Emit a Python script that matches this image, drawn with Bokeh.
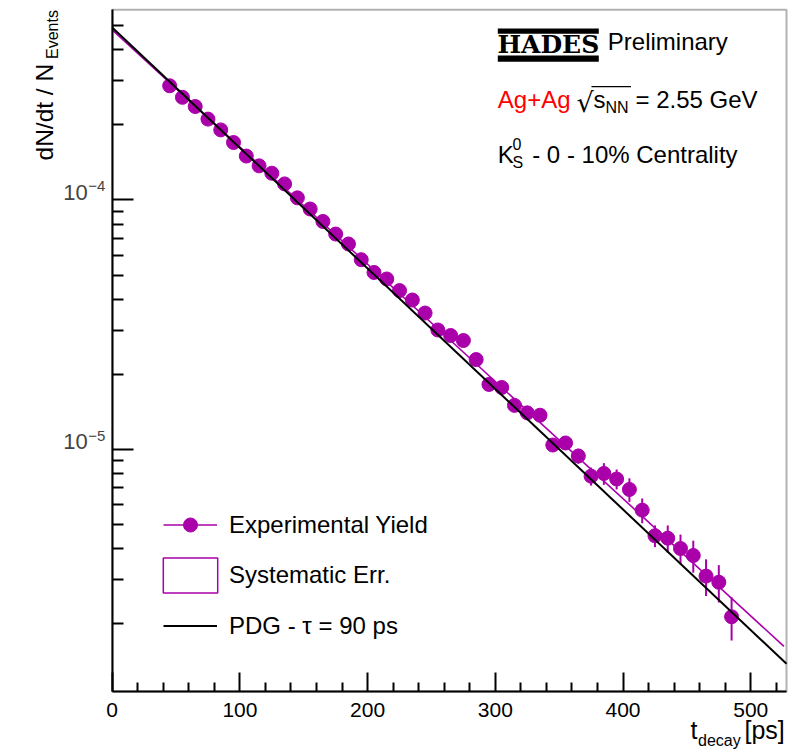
import math
from bokeh.plotting import figure
from bokeh.models import (Range1d, FixedTicker, Label, Legend, LegendItem,
                          BoxAnnotation, CustomJSTickFormatter)
from bokeh.embed import file_html
from bokeh.resources import INLINE

# ---------------- data ----------------
t_decay = [45, 55, 65, 75, 85, 95, 105, 115, 125, 135, 145, 155, 165, 175, 185,
           195, 205, 215, 225, 235, 245, 255, 265, 275, 285, 295, 305, 315, 325,
           335, 345, 355, 365, 375, 385, 395, 405, 415, 425, 435, 445, 455, 465,
           475, 485]
yield_vals = [2.87e-4, 2.58e-4, 2.37e-4, 2.11e-4, 1.91e-4, 1.70e-4, 1.50e-4,
              1.37e-4, 1.28e-4, 1.16e-4, 1.02e-4, 9.2e-5, 8.2e-5, 7.3e-5,
              6.66e-5, 5.76e-5, 5.12e-5, 4.82e-5, 4.33e-5, 3.97e-5, 3.52e-5,
              3.01e-5, 2.86e-5, 2.73e-5, 2.29e-5, 1.82e-5, 1.77e-5, 1.50e-5,
              1.40e-5, 1.37e-5, 1.04e-5, 1.06e-5, 9.4e-6, 7.8e-6, 8.0e-6,
              7.6e-6, 6.9e-6, 5.7e-6, 4.5e-6, 4.4e-6, 4.0e-6, 3.75e-6, 3.1e-6,
              2.93e-6, 2.13e-6]
stat_err = [5.7e-6, 5.2e-6, 4.7e-6, 4.2e-6, 3.8e-6, 3.4e-6, 3.0e-6, 2.7e-6,
            2.6e-6, 2.3e-6, 2.0e-6, 1.8e-6, 1.6e-6, 1.5e-6, 1.3e-6, 1.2e-6,
            1.0e-6, 1.0e-6, 0.9e-6, 0.8e-6, 0.9e-6, 0.9e-6, 0.9e-6, 0.8e-6,
            0.8e-6, 0.7e-6, 0.7e-6, 0.7e-6, 0.7e-6, 0.7e-6, 0.6e-6, 0.65e-6,
            0.65e-6, 0.65e-6, 0.8e-6, 0.7e-6, 0.75e-6, 0.65e-6, 0.45e-6,
            0.55e-6, 0.55e-6, 0.55e-6, 0.52e-6, 0.5e-6, 0.42e-6]
# systematic uncertainties (boxes hidden behind the markers)
sys_err = [5.0e-6, 4.5e-6, 4.1e-6, 3.7e-6, 3.3e-6, 3.0e-6, 2.6e-6, 2.4e-6,
           2.2e-6, 2.0e-6, 1.8e-6, 1.6e-6, 1.4e-6, 1.3e-6, 1.2e-6, 1.0e-6,
           0.9e-6, 0.8e-6, 0.75e-6, 0.7e-6, 0.6e-6, 0.52e-6, 0.5e-6, 0.48e-6,
           0.4e-6, 0.32e-6, 0.31e-6, 0.26e-6, 0.24e-6, 0.24e-6, 0.18e-6,
           0.18e-6, 0.16e-6, 0.14e-6, 0.14e-6, 0.13e-6, 0.12e-6, 0.1e-6,
           0.08e-6, 0.08e-6, 0.07e-6, 0.07e-6, 0.05e-6, 0.05e-6, 0.04e-6]
sys_half_width = 2.5
# fitted exponential (magenta) and PDG expectation (black), end points
fit_t = [0, 526]
fit_y = [4.81e-4, 1.62e-6]
pdg_t = [0, 528]
pdg_y = [4.92e-4, 1.38e-6]

# axis ranges of the drawn frame
X_MIN, X_MAX = 0, 528
Y_MIN, Y_MAX = 1.068e-6, 5.79e-4
x_ticks = [0, 100, 200, 300, 400, 500]
x_minor = [20, 40, 60, 80, 120, 140, 160, 180, 220, 240, 260, 280, 320, 340,
           360, 380, 420, 440, 460, 480, 520]
y_major = [1e-5, 1e-4]
y_major_exp = ["\u22125", "\u22124"]
y_minor = [2e-6, 3e-6, 4e-6, 5e-6, 6e-6, 7e-6, 8e-6, 9e-6,
           2e-5, 3e-5, 4e-5, 5e-5, 6e-5, 7e-5, 8e-5, 9e-5,
           2e-4, 3e-4, 4e-4, 5e-4]

MAG = "#aa00aa"
FONT = "Liberation Sans"
W, H = 794, 752
# canvas margins (px) around the drawn frame
ML, MR, MT, MB = 111.7, 8.0, 9.3, 61.0
# renderer places the alphabetic baseline this many em below the anchor
BASE_K = 0.38

# extend ranges so that the frame sits at the wanted pixels of a full canvas
xs = (W - ML - MR) / (X_MAX - X_MIN)
ly0, ly1 = math.log10(Y_MIN), math.log10(Y_MAX)
ys = (H - MT - MB) / (ly1 - ly0)
x_range = Range1d(X_MIN - ML / xs, X_MAX + MR / xs)
y_range = Range1d(10 ** (ly0 - MB / ys), 10 ** (ly1 + MT / ys))

p = figure(width=W, height=H, x_range=x_range, y_range=y_range,
           y_axis_type="log", output_backend="svg", toolbar_location=None,
           title=None, min_border=0, min_border_left=0, min_border_right=0,
           min_border_top=0, min_border_bottom=0)
p.xgrid.visible = False
p.ygrid.visible = False
p.outline_line_color = None
p.background_fill_color = "white"
p.border_fill_color = "white"

# axes, fixed at the frame edges
xa, ya = p.xaxis[0], p.yaxis[0]
xa.fixed_location = Y_MIN
ya.fixed_location = X_MIN
xa.bounds = (X_MIN, X_MAX)
ya.bounds = (Y_MIN, Y_MAX)
xa.ticker = FixedTicker(ticks=x_ticks, minor_ticks=x_minor)
ya.ticker = FixedTicker(ticks=y_major, minor_ticks=y_minor)
for ax in (xa, ya):
    ax.axis_line_width = 2
    ax.major_tick_line_width = 2
    ax.minor_tick_line_width = 2
    ax.major_tick_out = 0
    ax.minor_tick_out = 0
xa.major_tick_in = 19
xa.minor_tick_in = 9
ya.major_tick_in = 21
ya.minor_tick_in = 11
xa.major_label_text_font = FONT
xa.major_label_text_font_size = "21px"
xa.major_label_text_color = "black"
xa.major_label_standoff = 11
ya.formatter = CustomJSTickFormatter(code="return ''")

# frame box
p.add_layout(BoxAnnotation(left=X_MIN, right=X_MAX, bottom=Y_MIN, top=Y_MAX,
                           fill_color=None, line_color="black", line_width=2))

# glyphs
lo = [v - e for v, e in zip(yield_vals, stat_err)]
hi = [v + e for v, e in zip(yield_vals, stat_err)]
sys_lo = [v - e for v, e in zip(yield_vals, sys_err)]
sys_hi = [v + e for v, e in zip(yield_vals, sys_err)]
sys_l = [t - sys_half_width for t in t_decay]
sys_rt = [t + sys_half_width for t in t_decay]

fit_r = p.line(fit_t, fit_y, line_color=MAG, line_width=1.6)
sys_r = p.quad(left=sys_l, right=sys_rt, top=sys_hi, bottom=sys_lo,
               fill_color=None, line_color=MAG, line_width=1.5)
err_r = p.segment(x0=t_decay, y0=lo, x1=t_decay, y1=hi, line_color=MAG,
                  line_width=2)
pts_r = p.scatter(t_decay, yield_vals, size=14, fill_color=MAG, line_color=MAG)
pdg_r = p.line(pdg_t, pdg_y, line_color="black", line_width=2)


def legend(item, ix, iy_bottom, gw, gh, standoff):
    lg = Legend(items=[item], location=(ix, H - iy_bottom), glyph_width=gw,
                glyph_height=gh, label_standoff=standoff, padding=0, margin=0,
                spacing=0, border_line_color=None, background_fill_alpha=0,
                label_text_font=FONT, label_text_font_size="24px",
                label_text_color="black")
    p.add_layout(lg)


legend(LegendItem(label="Experimental Yield", renderers=[fit_r, pts_r]),
       163, 542, 54, 35, 12)
legend(LegendItem(label="Systematic Err.", renderers=[sys_r]),
       156, 597, 68, 44, 5)
legend(LegendItem(label="PDG - \u03c4 = 90 ps", renderers=[pdg_r]),
       163, 643, 54, 35, 12)


def lab(text, ix, iy, size, color="black", align="left", rotated=False,
        font=FONT, style="normal"):
    """Text at picture pixel ix and baseline iy (from top-left)."""
    shift = BASE_K * size
    if rotated:
        x, y, angle = ix - shift, H - iy, math.pi / 2
    else:
        x, y, angle = ix, H - iy + shift, 0.0
    p.add_layout(Label(x=x, y=y, x_units="screen", y_units="screen",
                       text=text, text_font=font, text_font_size=f"{size}px",
                       text_color=color, text_align=align,
                       text_baseline="alphabetic", angle=angle,
                       text_font_style=style))


# y tick labels 10^-n placed at the tick values
for val, ex in zip(y_major, y_major_exp):
    p.add_layout(Label(x=87.3, y=val, x_units="screen", y_units="data",
                       text="10", text_font=FONT, text_font_size="22px",
                       text_align="right", text_baseline="alphabetic",
                       y_offset=-1 + BASE_K * 22))
    p.add_layout(Label(x=87.8, y=val, x_units="screen", y_units="data",
                       text=ex, text_font=FONT, text_font_size="15px",
                       text_align="left", text_baseline="alphabetic",
                       y_offset=8 + BASE_K * 15))

# axis titles
lab("dN/dt / N", 53.3, 160, 24.5, rotated=True)
lab("Events", 58.3, 58.5, 16, rotated=True)
lab("t", 690, 739, 25)
lab("decay", 697.5, 746, 16)
lab("[ps]", 744, 739, 25)

# HADES logo + texts
def box(il, ir, itop, ibot):
    p.add_layout(BoxAnnotation(left=il, right=ir, top=H - itop,
                               bottom=H - ibot,
                               left_units="screen", right_units="screen",
                               top_units="screen", bottom_units="screen",
                               fill_color="black", fill_alpha=1,
                               line_color=None))


box(497.3, 598.3, 28, 33.3)
box(497.3, 598.3, 55, 61.3)
lab("HADES", 547.8, 53.3, 25, align="center", font="DejaVu Serif",
    style="bold")
lab("Preliminary", 607.3, 50, 24)

lab("Ag+Ag", 497.3, 108, 24, color="#ff0000")
lab("\u221a", 576, 112, 27, font="DejaVu Sans")
box(591, 630.5, 85.5, 86.8)
lab("s", 593, 108, 24)
lab("NN", 605, 113, 16)
lab("= 2.55 GeV", 635, 108, 24)

lab("K", 497.3, 162.7, 24)
lab("0", 512, 150, 16)
lab("S", 512, 168.3, 16)
lab("- 0 - 10% Centrality", 531.7, 162.7, 24)

open("out.html", "w").write(file_html(p, INLINE))
